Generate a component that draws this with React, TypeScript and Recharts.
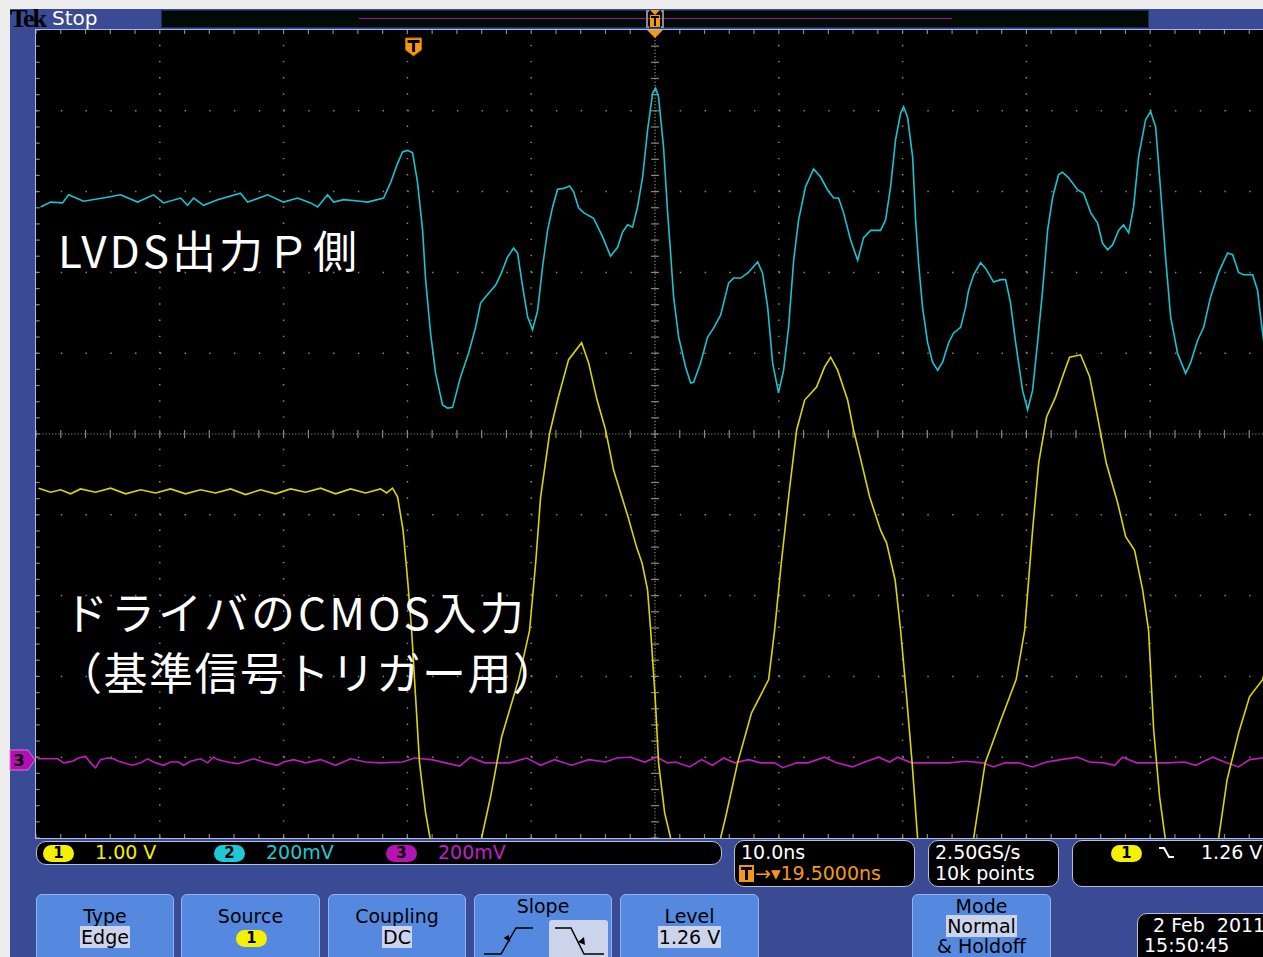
import React from 'react';
import { LineChart, Line, XAxis, YAxis, ReferenceLine, ReferenceDot } from 'recharts';

// time is ns from the trigger point, values are screen divisions (0 = centre line)
const ch1Points: [number, number][] = [
  [-30.29, -0.67], [-29.32, -0.72], [-28.51, -0.69], [-27.71, -0.74], [-26.9, -0.68], [-25.69, -0.72],
  [-24.47, -0.67], [-23.26, -0.74], [-22.05, -0.69], [-20.84, -0.73], [-19.63, -0.68], [-18.42, -0.74],
  [-17.21, -0.69], [-16.0, -0.73], [-14.78, -0.68], [-13.57, -0.75], [-12.36, -0.69], [-11.15, -0.74],
  [-9.94, -0.68], [-8.72, -0.72], [-7.51, -0.67], [-6.3, -0.74], [-5.09, -0.68], [-3.88, -0.73],
  [-2.67, -0.68], [-2.18, -0.73], [-1.7, -0.67], [-1.29, -0.78],
  [-0.85, -1.19], [-0.48, -1.81], [-0.16, -2.43], [0.16, -3.25], [0.48, -4.07], [0.97, -4.69], [1.33, -5.0],
  [3.5, -5.8],
  [5.49, -5.0], [6.22, -4.49], [7.11, -3.75], [8.48, -3.04], [9.37, -2.43], [9.86, -1.6], [10.26, -0.78],
  [10.99, 0.01], [11.63, 0.42], [12.52, 0.92], [13.57, 1.13], [14.14, 0.88], [14.82, 0.42], [15.51, 0.05],
  [16.16, -0.45], [17.33, -1.03], [18.01, -1.4], [18.46, -1.6], [18.9, -1.93], [19.15, -2.43], [19.51, -3.25],
  [19.79, -4.07], [20.28, -4.69], [20.76, -5.0],
  [22.78, -5.8],
  [24.8, -5.0], [25.28, -4.69], [26.17, -4.07], [27.3, -3.45], [28.68, -3.04], [29.16, -2.43], [29.7, -1.6],
  [30.29, -0.78], [30.94, 0.05], [31.59, 0.42], [32.55, 0.58], [33.2, 0.83], [33.69, 0.95], [34.25, 0.79],
  [35.06, 0.42], [35.54, 0.05], [36.19, -0.36], [36.84, -0.78], [37.72, -1.19], [38.21, -1.35], [38.9, -1.81],
  [39.34, -2.43], [39.82, -3.25], [40.27, -4.07], [40.71, -5.0],
  [42.98, -5.8],
  [45.24, -5.0], [46.17, -4.07], [47.34, -3.58], [48.67, -3.04], [49.36, -2.43], [50.0, -1.19], [50.49, -0.36],
  [51.13, 0.21], [51.86, 0.46], [52.51, 0.75], [52.99, 0.95], [53.88, 0.98], [54.61, 0.71], [55.25, 0.21],
  [55.95, -0.36], [56.87, -0.85], [57.52, -1.27], [58.24, -1.44], [58.89, -1.93], [59.37, -2.43], [59.78, -3.66],
  [60.26, -4.49], [60.71, -5.0],
  [62.84, -5.8],
  [65.03, -5.0], [65.71, -4.28], [66.64, -3.7], [67.53, -3.25], [68.58, -3.04], [69.23, -2.67],
];

const ch2Points: [number, number][] = [
  [-30.13, 2.81], [-29.32, 2.87], [-28.35, 2.86], [-27.87, 2.96], [-26.66, 2.88], [-24.72, 2.93], [-23.67, 2.96],
  [-22.3, 2.87], [-21.0, 2.96], [-20.2, 2.86], [-18.82, 2.92], [-18.26, 2.83], [-17.77, 2.92], [-16.96, 2.83],
  [-15.83, 2.9], [-13.98, 2.98], [-13.41, 2.87], [-11.79, 2.96], [-10.5, 2.87], [-9.37, 2.92], [-8.32, 2.86],
  [-7.75, 2.81], [-6.95, 2.96], [-6.46, 2.87], [-5.65, 2.9], [-4.28, 2.88], [-3.72, 2.87], [-2.42, 2.92],
  [-1.86, 3.11], [-1.29, 3.35], [-0.89, 3.49], [-0.48, 3.51], [-0.08, 3.48], [0.32, 3.11], [0.73, 2.52],
  [0.97, 1.91], [1.37, 1.25], [1.78, 0.75], [2.34, 0.36], [2.75, 0.32], [3.15, 0.33], [3.8, 0.71], [4.44, 1.0],
  [5.01, 1.32], [5.41, 1.62], [5.82, 1.7], [6.62, 1.84], [7.03, 1.97], [7.59, 2.19], [8.08, 2.3], [8.4, 2.24],
  [8.81, 1.82], [9.21, 1.45], [9.61, 1.29], [10.02, 1.53], [10.42, 2.07], [10.82, 2.52], [11.23, 2.81],
  [11.63, 3.03], [12.12, 3.04], [12.6, 3.07], [12.92, 3.0], [13.33, 2.8], [13.73, 2.74], [14.54, 2.67],
  [15.27, 2.44], [15.91, 2.2], [16.48, 2.31], [16.88, 2.5], [17.29, 2.59], [17.69, 2.56], [18.09, 2.81],
  [18.5, 3.18], [18.9, 3.76], [19.31, 4.22], [19.55, 4.28], [19.79, 4.17], [20.19, 3.55], [20.52, 2.74],
  [20.76, 2.24], [21.0, 1.7], [21.41, 1.2], [21.97, 0.83], [22.38, 0.63], [22.62, 0.64], [23.18, 0.88],
  [23.75, 1.2], [24.23, 1.31], [24.8, 1.47], [25.45, 1.87], [25.85, 1.93], [26.42, 1.93], [26.98, 1.99],
  [27.79, 2.13], [28.19, 1.99], [28.6, 1.57], [29.0, 0.88], [29.48, 0.51], [29.89, 0.79], [30.29, 1.32],
  [30.7, 2.15], [31.1, 2.65], [31.66, 3.06], [32.31, 3.28], [32.88, 3.18], [33.44, 3.02], [33.93, 2.92],
  [34.33, 2.92], [34.73, 2.74], [35.3, 2.4], [35.87, 2.15], [36.35, 2.43], [36.92, 2.52], [37.72, 2.52],
  [38.13, 2.65], [38.53, 3.06], [38.93, 3.64], [39.34, 3.97], [39.58, 4.05], [39.9, 3.92], [40.31, 3.43],
  [40.55, 2.65], [40.79, 2.12], [41.11, 1.57], [41.52, 1.13], [41.92, 0.89], [42.33, 0.79], [42.73, 0.89],
  [43.22, 1.13], [43.62, 1.25], [44.19, 1.32], [44.59, 1.57], [44.83, 1.78], [45.24, 1.97], [45.8, 2.12],
  [46.21, 2.05], [46.85, 1.88], [47.42, 1.91], [47.82, 1.91], [48.22, 1.62], [48.63, 1.13], [49.19, 0.54],
  [49.6, 0.3], [50.0, 0.54], [50.4, 1.13], [50.81, 1.78], [51.21, 2.52], [51.62, 2.93], [52.1, 3.21],
  [52.42, 3.24], [52.91, 3.17], [53.64, 3.02], [54.12, 2.98], [54.69, 2.74], [55.25, 2.61], [55.65, 2.36],
  [56.06, 2.28], [56.46, 2.34], [56.95, 2.52], [57.35, 2.59], [57.76, 2.49], [58.16, 2.81], [58.56, 3.43],
  [59.13, 3.89], [59.53, 3.99], [59.94, 3.8], [60.34, 3.02], [60.74, 2.19], [61.15, 1.45], [61.71, 1.0],
  [62.36, 0.75], [62.76, 0.88], [63.33, 1.16], [63.82, 1.32], [64.38, 1.7], [65.03, 2.0], [65.75, 2.24],
  [66.16, 2.22], [66.64, 2.0], [67.04, 1.97], [67.77, 1.97], [68.17, 1.78], [68.42, 1.45], [68.66, 1.16],
  [69.06, 0.98],
];

const ch3Points: [number, number][] = [
  [-30.37, -4.02], [-28.76, -4.02], [-28.27, -4.07], [-27.55, -4.05], [-27.06, -4.01], [-26.5, -3.99],
  [-26.09, -4.07], [-25.69, -4.13], [-25.28, -4.03], [-24.72, -4.01], [-24.23, -4.02], [-23.83, -4.05],
  [-23.43, -4.07], [-22.7, -4.1], [-22.05, -4.07], [-21.49, -4.02], [-21.0, -4.06], [-20.2, -4.1],
  [-19.63, -4.06], [-18.98, -4.06], [-18.58, -4.1], [-18.01, -4.05], [-17.21, -4.02], [-16.64, -4.07],
  [-16.16, -4.0], [-15.83, -4.03], [-15.03, -4.06], [-14.22, -4.08], [-13.57, -4.05], [-12.92, -4.02],
  [-12.12, -4.06], [-10.99, -4.1], [-10.5, -4.06], [-9.69, -4.03], [-8.72, -4.07], [-7.51, -4.03],
  [-6.3, -4.1], [-5.09, -4.02], [-3.88, -4.06], [-2.67, -4.07], [-0.89, -4.06], [0.08, -4.01], [1.45, -4.03],
  [2.58, -4.07], [3.72, -4.11], [4.6, -4.0], [5.74, -4.07], [7.75, -4.07], [9.13, -4.01], [10.26, -4.1],
  [11.39, -4.03], [12.76, -4.1], [14.14, -4.03], [15.51, -4.06], [16.4, -4.01], [17.53, -4.0], [18.66, -4.06],
  [19.63, -4.0], [20.52, -4.07], [21.16, -4.06], [22.3, -4.12], [23.26, -4.03], [24.15, -4.1], [25.04, -4.01],
  [25.93, -4.07], [27.06, -4.03], [28.03, -4.07], [29.16, -4.07], [29.81, -4.13], [30.94, -4.07],
  [31.83, -4.07], [33.2, -4.0], [34.17, -4.07], [35.46, -4.12], [36.43, -4.06], [37.56, -4.0], [38.45, -4.06],
  [39.1, -4.0], [40.23, -4.07], [41.6, -4.07], [43.22, -4.07], [44.59, -4.05], [45.96, -4.07], [46.85, -4.12],
  [47.74, -4.07], [48.87, -4.07], [50.0, -4.12], [51.13, -4.06], [52.26, -4.03], [53.64, -4.0], [54.61, -4.06],
  [55.74, -4.07], [56.63, -4.1], [57.27, -4.0], [58.4, -4.07], [59.53, -4.07], [60.91, -4.07], [62.28, -4.06],
  [63.17, -4.1], [64.54, -4.0], [65.51, -4.06], [66.64, -4.12], [67.53, -4.03], [68.58, -4.01], [69.55, -4.03],
];

const gridX = [-30.5, -20.5, -10.5, -0.5, 9.5, 19.5, 29.5, 39.5, 49.5, 59.5, 69.5];
const gridY = [-5, -4, -3, -2, -1, 0, 1, 2, 3, 4, 5];
const centerX = 19.5;
const centerY = 0;
const triggerTime = 0;

const channelLabels = [
  { n: '1', scale: '1.00 V', pill: '#f4f000', text: '#f4f000' },
  { n: '2', scale: '200mV', pill: '#1ec8d6', text: '#1ec8d6' },
  { n: '3', scale: '200mV', pill: '#b414b4', text: '#c020c8' },
];
const timebase = ['10.0ns', '19.5000ns'];
const acquisition = ['2.50GS/s', '10k points'];
const triggerLevel = '1.26 V';
const dateLines = ['2 Feb  2011', '15:50:45'];

const toRows = (pts: [number, number][]) => pts.map(([t, v]) => ({ t, v }));
const subdivide = (g: number[]) =>
  g.slice(0, -1).flatMap((a, i) => [0, 1, 2, 3, 4].map((k) => a + ((g[i + 1] - a) * k) / 5)).concat(g[g.length - 1]);
const minorX = subdivide(gridX);
const minorY = subdivide(gridY);

const FRAME = '#3b4a94';
const BTN = '#5589e0';
const GRID = '#8d8973';
const MONO = '"DejaVu Sans", sans-serif';

function TrigMark(props: any) {
  const { cx, cy } = props;
  return (
    <g>
      <path d={`M${cx - 8},${cy - 9} h16 v12 l-8,6 l-8,-6 z`} fill="#f49a10" stroke="#b86000" strokeWidth={1} />
      <rect x={cx - 6} y={cy - 7} width={12} height={3} fill="#000" />
      <rect x={cx - 1.5} y={cy - 7} width={3} height={12} fill="#000" />
    </g>
  );
}

function Pill({ n, color, x, y }: { n: string; color: string; x: number; y: number }) {
  return (
    <div style={{
      position: 'absolute', left: x, top: y, width: 31, height: 17, borderRadius: 9, background: color,
      color: '#000', fontFamily: MONO, fontWeight: 'bold', fontSize: 15, lineHeight: '17px', textAlign: 'center',
    }}>{n}</div>
  );
}

function Box({ x, y, w, h, children }: { x: number; y: number; w: number; h: number; children?: React.ReactNode }) {
  return (
    <div style={{
      position: 'absolute', left: x, top: y, width: w, height: h, background: '#000', boxSizing: 'border-box',
      border: '1.5px solid #b8bfd0', borderRadius: 10,
    }}>{children}</div>
  );
}

function Txt({ x, y, color, children, bg }: { x: number; y: number; color: string; children: React.ReactNode; bg?: string }) {
  return (
    <div style={{
      position: 'absolute', left: x, top: y, color, fontFamily: MONO, fontSize: 19, lineHeight: '21px',
      whiteSpace: 'pre', background: bg, padding: bg ? '0 1px' : undefined,
    }}>{children}</div>
  );
}

function Button({ x, w, children }: { x: number; w: number; children?: React.ReactNode }) {
  return (
    <div style={{
      position: 'absolute', left: x, top: 894, width: w, height: 80, background: BTN, boxSizing: 'border-box',
      border: '1px solid #8fb4f4', borderRadius: 6,
    }}>{children}</div>
  );
}

function CenterTxt({ y, children, bg }: { y: number; children: React.ReactNode; bg?: boolean }) {
  return (
    <div style={{ position: 'absolute', left: 0, right: 0, top: y, textAlign: 'center' }}>
      <span style={{
        fontFamily: MONO, fontSize: 19, lineHeight: '21px', color: '#000', background: bg ? '#ccd4ec' : undefined,
        padding: bg ? '0 1px' : undefined,
      }}>{children}</span>
    </div>
  );
}

export default function App() {
  const ch1 = toRows(ch1Points);
  const ch2 = toRows(ch2Points);
  const ch3 = toRows(ch3Points);
  const innerX = gridX.slice(1, -1).filter((g) => g !== centerX);
  const innerY = gridY.slice(1, -1).filter((g) => g !== centerY);
  const annot = { position: 'absolute' as const, color: '#fff', fontFamily: '"Noto Sans CJK JP", sans-serif', fontSize: 44, lineHeight: '60px', letterSpacing: 2, whiteSpace: 'pre' as const };

  return (
    <div style={{ position: 'absolute', left: 0, top: 0, width: 1263, height: 957, overflow: 'hidden', background: '#ededed' }}>
      <div style={{ position: 'absolute', left: 10, top: 9, width: 1260, height: 960, background: FRAME }} />

      {/* status bar */}
      <div style={{ position: 'absolute', left: 10, top: 4, fontFamily: '"Liberation Serif", serif', fontWeight: 'bold', fontSize: 26, color: '#000', letterSpacing: -2 }}>Tek</div>
      <div style={{ position: 'absolute', left: 52, top: 6, fontFamily: MONO, fontSize: 20, color: '#fff' }}>Stop</div>
      <div style={{ position: 'absolute', left: 161, top: 10, width: 988, height: 18, background: '#020a05', boxSizing: 'border-box', border: '1px solid #1c2a58' }} />
      <div style={{ position: 'absolute', left: 359, top: 18, width: 593, height: 1, background: '#a010a0' }} />
      <svg style={{ position: 'absolute', left: 640, top: 9, overflow: 'visible' }} width={30} height={30}>
        <path d="M9,2 h-2 v16 h2 M21,2 h2 v16 h-2" stroke="#8a8a8a" strokeWidth={2} fill="none" />
        <path d="M10,1 h10 l-5,5 z" fill="#f49a10" />
        <rect x={10} y={6} width={10} height={12} fill="#f49a10" />
        <rect x={11} y={7} width={8} height={2} fill="#000" />
        <rect x={14} y={7} width={2} height={10} fill="#000" />
      </svg>

      {/* graticule + traces */}
      <div style={{ position: 'absolute', left: 36, top: 30, width: 1238, height: 808, background: '#000' }} />
      <div style={{ position: 'absolute', left: 36, top: 30 }}>
        <LineChart width={1238} height={808} margin={{ top: 0, right: 0, bottom: 0, left: 0 }}>
          <XAxis type="number" dataKey="t" domain={[gridX[0], gridX[gridX.length - 1]]} hide allowDataOverflow />
          <YAxis type="number" dataKey="v" domain={[gridY[0], gridY[gridY.length - 1]]} hide allowDataOverflow />
          {innerX.map((g) => (
            <ReferenceLine key={'gx' + g} x={g} stroke={GRID} strokeWidth={1.5} strokeDasharray="1.4 14.76" />
          ))}
          {innerY.map((g) => (
            <ReferenceLine key={'gy' + g} y={g} stroke={GRID} strokeWidth={1.5} strokeDasharray="1.4 23.36" />
          ))}
          <ReferenceLine x={centerX} stroke={GRID} strokeWidth={1.2} strokeDasharray="1.2 2" />
          <ReferenceLine y={centerY} stroke={GRID} strokeWidth={1.2} strokeDasharray="1.2 2" />
          {minorY.map((y) => (
            <ReferenceLine key={'cy' + y} segment={[{ x: centerX - 0.32, y }, { x: centerX + 0.32, y }]} stroke={GRID} strokeWidth={1.2} />
          ))}
          {minorX.map((x) => (
            <ReferenceLine key={'cx' + x} segment={[{ x, y: centerY - 0.05 }, { x, y: centerY + 0.05 }]} stroke={GRID} strokeWidth={1.2} />
          ))}
          {minorX.map((x) => (
            <ReferenceLine key={'tx' + x} segment={[{ x, y: 5 }, { x, y: 4.95 }]} stroke={GRID} strokeWidth={1.2} />
          ))}
          {minorX.map((x) => (
            <ReferenceLine key={'bx' + x} segment={[{ x, y: -5 }, { x, y: -4.95 }]} stroke={GRID} strokeWidth={1.2} />
          ))}
          {minorY.map((y) => (
            <ReferenceLine key={'ly' + y} segment={[{ x: gridX[0], y }, { x: gridX[0] + 0.3, y }]} stroke={GRID} strokeWidth={1.2} />
          ))}
          <Line data={ch3} dataKey="v" type="linear" stroke="#c01cc0" strokeWidth={1.6} dot={false} isAnimationActive={false} />
          <Line data={ch1} dataKey="v" type="linear" stroke="#dcd600" strokeWidth={1.6} dot={false} isAnimationActive={false} />
          <Line data={ch2} dataKey="v" type="linear" stroke="#19c4d0" strokeWidth={1.6} dot={false} isAnimationActive={false} />
          <ReferenceDot x={triggerTime} y={4.79} r={8} shape={TrigMark} />
        </LineChart>
      </div>
      <div style={{ position: 'absolute', left: 35, top: 29, width: 1245, height: 810, boxSizing: 'border-box', border: '1px solid #a6bcef', pointerEvents: 'none' }} />
      <svg style={{ position: 'absolute', left: 646, top: 29 }} width={18} height={10}>
        <path d="M1,1 h16 l-8,8 z" fill="#f49a10" />
      </svg>

      {/* channel 3 ground marker */}
      <svg style={{ position: 'absolute', left: 9, top: 749 }} width={28} height={22}>
        <path d="M1,1 h18 l7,10 l-7,10 h-18 z" fill="#b010b0" stroke="#e070e0" strokeWidth={1} />
        <text x={10} y={17} textAnchor="middle" fontFamily={MONO} fontWeight="bold" fontSize={16} fill="#000">3</text>
      </svg>

      {/* annotations */}
      <div style={{ ...annot, left: 58, top: 219, letterSpacing: 3 }}>LVDS出力Ｐ側</div>
      <div style={{ ...annot, left: 64, top: 581, letterSpacing: 3 }}>ドライバのCMOS入力</div>
      <div style={{ ...annot, left: 58, top: 641, letterSpacing: 1.5 }}>（基準信号トリガー用）</div>

      {/* readouts */}
      <Box x={36} y={841} w={686} h={24} />
      {channelLabels.map((c, i) => {
        const x0 = [43, 214, 386][i];
        return (
          <React.Fragment key={c.n}>
            <Pill n={c.n} color={c.pill} x={x0} y={845} />
            <Txt x={x0 + 52} y={842} color={c.text}>{c.scale}</Txt>
          </React.Fragment>
        );
      })}
      <Box x={734} y={840} w={181} h={47} />
      <Txt x={741} y={842} color="#fff">{timebase[0]}</Txt>
      <div style={{ position: 'absolute', left: 739, top: 865, width: 15, height: 17, background: '#f49a10' }}>
        <div style={{ position: 'absolute', left: 2, top: 2, width: 11, height: 3, background: '#000' }} />
        <div style={{ position: 'absolute', left: 6, top: 2, width: 3, height: 13, background: '#000' }} />
      </div>
      <Txt x={755} y={863} color="#f49a10">{'→▾' + timebase[1]}</Txt>
      <Box x={928} y={840} w={131} h={47} />
      <Txt x={935} y={842} color="#fff">{acquisition[0]}</Txt>
      <Txt x={935} y={863} color="#fff">{acquisition[1]}</Txt>
      <Box x={1072} y={840} w={220} h={47} />
      <Pill n="1" color="#f4f000" x={1111} y={845} />
      <svg style={{ position: 'absolute', left: 1158, top: 845 }} width={18} height={16}>
        <path d="M1,3 h5 l5,9 h5" stroke="#fff" strokeWidth={2} fill="none" />
      </svg>
      <Txt x={1201} y={842} color="#fff">{triggerLevel}</Txt>

      {/* menu buttons */}
      <Button x={36} w={138}>
        <CenterTxt y={11}>Type</CenterTxt>
        <CenterTxt y={32} bg>Edge</CenterTxt>
      </Button>
      <Button x={181} w={139}>
        <CenterTxt y={11}>Source</CenterTxt>
        <div style={{ position: 'absolute', left: 54, top: 35, width: 31, height: 17, borderRadius: 9, background: '#f4f000', fontFamily: MONO, fontWeight: 'bold', fontSize: 15, lineHeight: '17px', textAlign: 'center' }}>1</div>
      </Button>
      <Button x={328} w={138}>
        <CenterTxt y={11}>Coupling</CenterTxt>
        <CenterTxt y={32} bg>DC</CenterTxt>
      </Button>
      <Button x={474} w={138}>
        <CenterTxt y={1}>Slope</CenterTxt>
        <div style={{ position: 'absolute', left: 74, top: 25, width: 59, height: 45, background: '#ccd4ec', borderRadius: 3 }} />
        <svg style={{ position: 'absolute', left: 0, top: 0 }} width={138} height={70}>
          <path d="M9,59 h17 l15,-26 h17" stroke="#000" strokeWidth={1.5} fill="none" />
          <path d="M33.5,40 l-5,3 l7,4 z" fill="#000" />
          <path d="M80,33 h16 l13,26 h20" stroke="#000" strokeWidth={1.5} fill="none" />
          <path d="M103,47 l7,3 l-1,-8 z" fill="#000" />
        </svg>
      </Button>
      <Button x={620} w={139}>
        <CenterTxt y={11}>Level</CenterTxt>
        <CenterTxt y={32} bg>{triggerLevel}</CenterTxt>
      </Button>
      <Button x={912} w={139}>
        <CenterTxt y={1}>Mode</CenterTxt>
        <CenterTxt y={21} bg>Normal</CenterTxt>
        <CenterTxt y={41}>&amp; Holdoff</CenterTxt>
      </Button>
      <Box x={1137} y={913} w={160} h={60} />
      <Txt x={1153} y={915} color="#fff">{dateLines[0]}</Txt>
      <Txt x={1144} y={935} color="#fff">{dateLines[1]}</Txt>
    </div>
  );
}
